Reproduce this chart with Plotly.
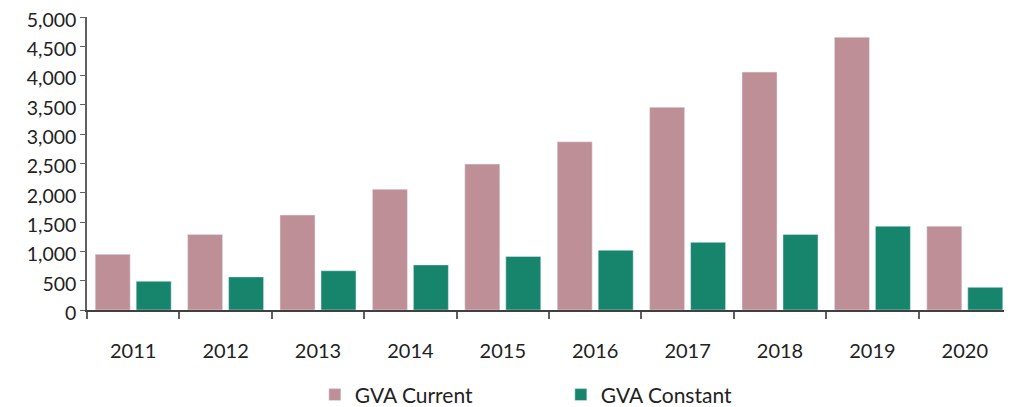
import plotly.graph_objects as go

years = ["2011", "2012", "2013", "2014", "2015", "2016", "2017", "2018", "2019", "2020"]
gva_current = [950, 1290, 1620, 2060, 2490, 2870, 3460, 4060, 4655, 1430]
gva_constant = [490, 565, 670, 770, 915, 1020, 1155, 1290, 1430, 387]

PINK = "#BF8F98"
GREEN = "#17856C"
FONT = "Lato"

fig = go.Figure()
fig.add_trace(go.Bar(x=years, y=gva_current, name="GVA Current", marker_color=PINK))
fig.add_trace(go.Bar(x=years, y=gva_constant, name="GVA Constant", marker_color=GREEN))

fig.update_layout(
    width=1004, height=399,
    margin=dict(l=79, r=1, t=9, b=97, autoexpand=False),
    paper_bgcolor="white", plot_bgcolor="white",
    barmode="group", bargap=0.113, bargroupgap=0.146,
    font=dict(family=FONT, size=20, color="#222222"),
    showlegend=True,
    legend=dict(orientation="h", x=0.2466, xanchor="left", y=-0.29, yanchor="middle",
                entrywidth=201, entrywidthmode="pixels",
                font=dict(size=21, color="#222222")),
)
fig.update_xaxes(
    showline=True, linecolor="#404040", linewidth=1.5,
    ticks="outside", ticklen=7, tickcolor="#606060", tickwidth=2,
    tickson="boundaries", ticklabelstandoff=22,
    showgrid=False, automargin=False,
)
fig.update_yaxes(
    range=[0, 5000], dtick=500, tickformat=",d",
    showline=True, linecolor="#606060", linewidth=1.5,
    ticks="outside", ticklen=5, tickcolor="#606060",
    ticklabeloverflow="allow", ticklabelshift=3,
    tickfont=dict(size=19.5),
    showgrid=False, zeroline=False, automargin=False,
)

fig.write_html("out.html")
